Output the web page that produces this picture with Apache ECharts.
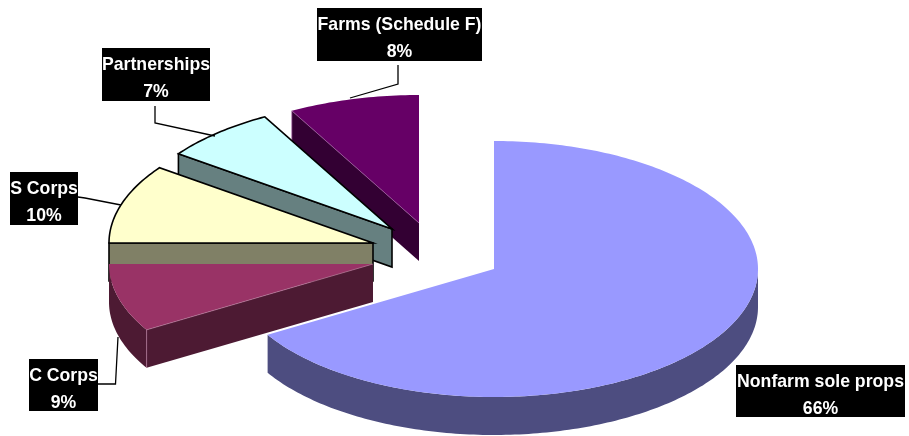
<!DOCTYPE html>
<html>
<head>
<meta charset="utf-8">
<style>html,body{margin:0;padding:0;background:#fff}#c{width:909px;height:436px}</style>
<script src="https://cdn.jsdelivr.net/npm/echarts@6/dist/echarts.min.js"></script>
</head>
<body>
<div id="c"></div>
<script>
// Data
const categories = ['Nonfarm sole props', 'C Corps', 'S Corps', 'Partnerships', 'Farms (Schedule F)'];
const shares = [66.4, 8.6, 10.0, 7.0, 8.0];

// Styles
const topColors = ['#9999FF', '#993366', '#FFFFCC', '#CCFFFF', '#660066'];
const sideColors = ['#4D4D80', '#4D1A33', '#808066', '#668080', '#330033'];
const edgeColors = [null, '#B5789A', '#000000', '#000000', '#A060A0'];
const edgeWidths = [0, 0.7, 1.6, 1.6, 0.7];

// Layout: exploded slice centres, label boxes [x, y, w, h], leader lines
const sliceCentres = [[494, 269], [373, 264], [373, 243], [392, 229], [419, 223]];
const radiusX = 264, radiusY = 128, depth = 38;
const labelBoxes = [[736, 365, 169, 52], [29, 359, 69, 52], [10, 172, 68, 53], [102, 48, 108, 53], [317, 8, 165, 53]];
const leaders = [
  null,
  [[98, 384], [115.5, 384], [118, 337]],
  [[78, 197], [85, 198], [121, 205]],
  [[155, 106], [155, 123], [215, 136]],
  [[398, 65], [398, 84], [350, 98]]
];

const total = shares.reduce((a, b) => a + b, 0);
const starts = [];
shares.reduce((acc, v, i) => { starts[i] = acc; return acc + v; }, 0);

function pointAt(c, deg, dy) {
  const r = deg * Math.PI / 180;
  return [c[0] + radiusX * Math.sin(r), c[1] - radiusY * Math.cos(r) + (dy || 0)];
}
function arc(c, a0, a1, dy) {
  const pts = [], n = Math.max(2, Math.ceil(Math.abs(a1 - a0)));
  for (let k = 0; k <= n; k++) pts.push(pointAt(c, a0 + (a1 - a0) * k / n, dy));
  return pts;
}

function renderItem(params, api) {
  const i = params.dataIndex;
  const value = api.value(0);
  const a0 = starts[i] / total * 360;
  const a1 = a0 + value / total * 360;
  const c = sliceCentres[i];
  const z = (5 - i) * 10;
  const children = [];
  const sideFill = sideColors[i];
  const stroke = edgeColors[i];
  const lw = edgeWidths[i];

  // cut face, seen when the cut edge runs on the viewer's side
  if (a0 > 180) {
    const p = pointAt(c, a0);
    const isBlack = stroke === '#000000';
    children.push({
      type: 'polygon', z2: z,
      shape: { points: [c, p, [p[0], p[1] + depth], [c[0], c[1] + depth]] },
      style: { fill: sideFill, stroke: isBlack ? stroke : null, lineWidth: lw, lineJoin: 'miter' }
    });
  }
  // outer rim on the lower half of the ellipse
  const rim0 = Math.max(a0, 90), rim1 = Math.min(a1, 270);
  if (rim1 > rim0) {
    children.push({
      type: 'polygon', z2: z + 1,
      shape: { points: arc(c, rim0, rim1, 0).concat(arc(c, rim1, rim0, depth)) },
      style: { fill: sideFill }
    });
  }
  // top face
  const topPts = [c].concat(arc(c, a0, a1, 0));
  children.push({
    type: 'polygon', z2: z + 2,
    shape: { points: topPts },
    style: { fill: topColors[i], stroke: stroke === '#000000' ? stroke : null, lineWidth: lw }
  });
  // thin highlight along the cut edges of the unoutlined wedges
  if (stroke && stroke !== '#000000') {
    const p = pointAt(c, a0);
    children.push({
      type: 'polyline', z2: z + 3,
      shape: { points: [c, p, [p[0], p[1] + depth]] },
      style: { stroke: stroke, lineWidth: lw, fill: null }
    });
  }
  // leader line
  if (leaders[i]) {
    children.push({
      type: 'polyline', z2: 200,
      shape: { points: leaders[i] },
      style: { stroke: '#000', lineWidth: 1.3, fill: null }
    });
  }
  // label box and text
  const b = labelBoxes[i];
  children.push({
    type: 'rect', z2: 201,
    shape: { x: b[0], y: b[1], width: b[2], height: b[3] },
    style: { fill: '#000' }
  });
  const cx = b[0] + b[2] / 2;
  [categories[i], Math.round(value / total * 100) + '%'].forEach((t, k) => {
    children.push({
      type: 'text', z2: 202,
      x: cx, y: b[1] + (k === 0 ? 17 : 44), scaleX: 0.93,
      style: {
        text: t, x: 0, y: 0, fill: '#fff', align: 'center', verticalAlign: 'middle',
        font: 'bold 19px "Liberation Sans", Arial, sans-serif'
      }
    });
  });
  return { type: 'group', children };
}

const chart = echarts.init(document.getElementById('c'), null, { renderer: 'canvas' });
chart.setOption({
  backgroundColor: '#ffffff',
  animation: false,
  series: [{
    type: 'custom',
    coordinateSystem: 'none',
    silent: true,
    renderItem,
    data: shares.map((v, i) => ({ name: categories[i], value: [v] }))
  }]
});
</script>
</body>
</html>
